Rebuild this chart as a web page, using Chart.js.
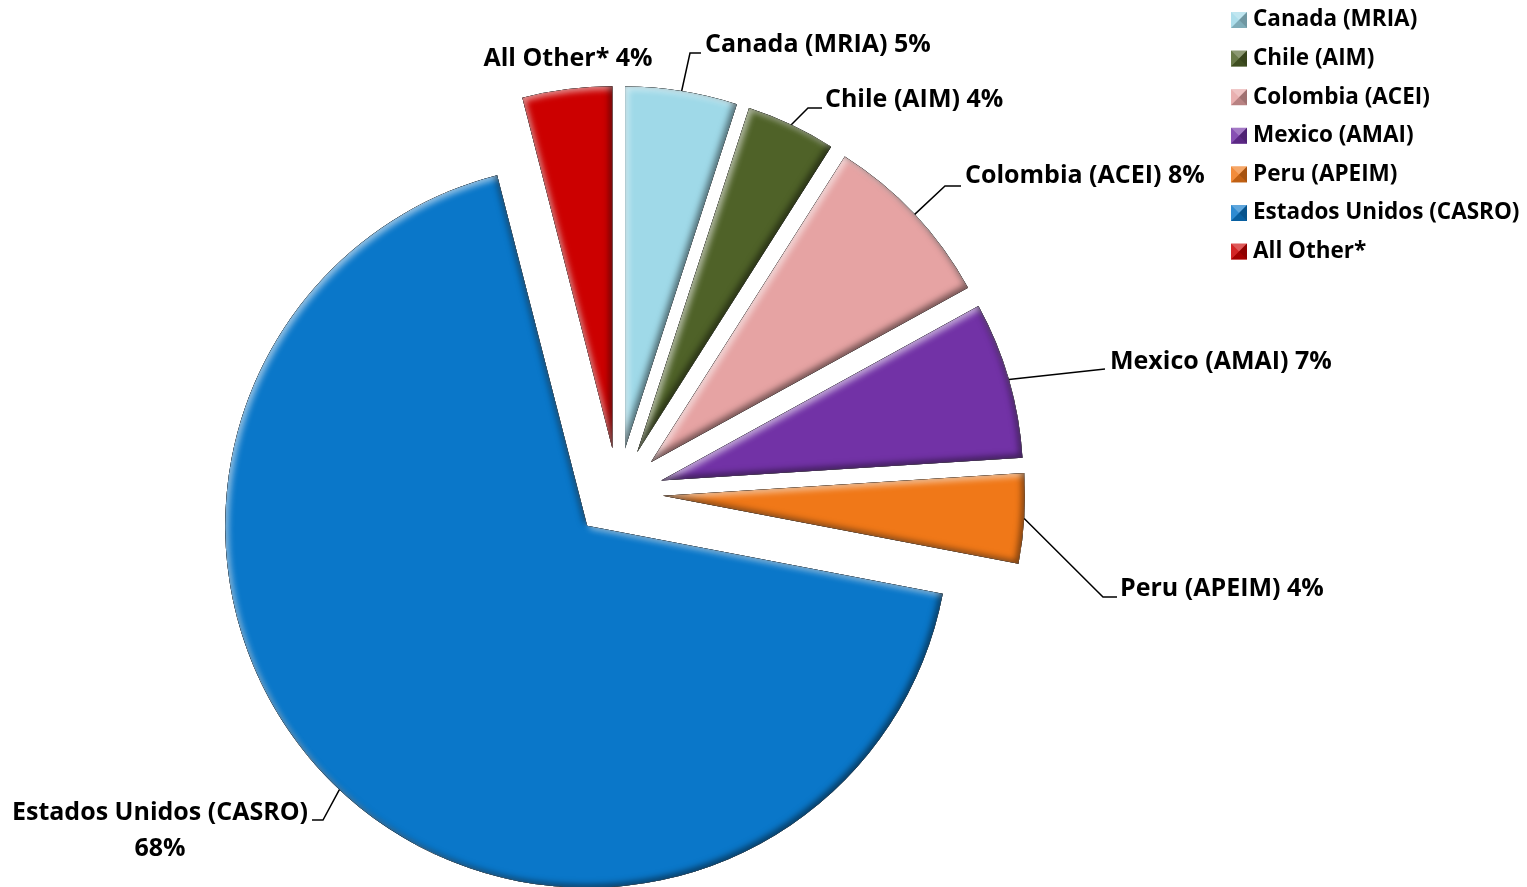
<!DOCTYPE html>
<html>
<head>
<meta charset="utf-8">
<script src="https://cdn.jsdelivr.net/npm/chart.js@4.4.0/dist/chart.umd.min.js"></script>
<style>
  html, body { margin: 0; padding: 0; background: #fff; }
  canvas { display: block; }
</style>
</head>
<body>
<canvas id="pieChart" width="1527" height="887"></canvas>
<script>
// Datos del gráfico
const categories = ['Canada (MRIA)', 'Chile (AIM)', 'Colombia (ACEI)', 'Mexico (AMAI)', 'Peru (APEIM)', 'Estados Unidos (CASRO)', 'All Other*'];
const shares = [5, 4, 8, 7, 4, 68, 4];
const sliceColors = ['#9FD9E8', '#4F6228', '#E6A3A3', '#7232A6', '#F07818', '#0A77C9', '#CC0000'];

const FONT = '"Open Sans", Lato, sans-serif';
const explodePx = 45;

// Posición de las etiquetas (solo maquetación) y codos de las líneas guía
const labelLayout = [
  { x: 705, y: 45, align: 'left', path: [[690, 53], [701, 53]] },
  { x: 825, y: 100, align: 'left', path: [[808, 108], [822, 108]] },
  { x: 965, y: 176, align: 'left', path: [[945, 186], [961, 186]] },
  { x: 1110, y: 362, align: 'left', path: [[1105, 369]] },
  { x: 1120, y: 589, align: 'left', path: [[1103, 597], [1117, 597]] },
  { x: 160, y: 813, align: 'center', path: [[323, 820], [312, 820]], twoLines: true },
  { x: 568, y: 59, align: 'center', path: null }
];

// Bisel interior: sombra de un rectángulo con el sector como hueco
function bevel(ctx, arc, color, off, blur) {
  ctx.save();
  ctx.beginPath();
  ctx.rect(-3000, -3000, 6000, 6000);
  ctx.moveTo(arc.x, arc.y);
  ctx.arc(arc.x, arc.y, arc.outerRadius, arc.startAngle, arc.endAngle);
  ctx.closePath();
  ctx.shadowColor = color;
  ctx.shadowBlur = blur;
  ctx.shadowOffsetX = off;
  ctx.shadowOffsetY = off;
  ctx.fillStyle = '#000';
  ctx.fill('evenodd');
  ctx.restore();
}

// Dibuja los sectores separados del centro con efecto de bisel
const explodedPie = {
  id: 'explodedPie',
  beforeDatasetDraw(chart, args) {
    const ctx = chart.ctx;
    args.meta.data.forEach(arc => {
      const mid = (arc.startAngle + arc.endAngle) / 2;
      ctx.save();
      ctx.translate(Math.cos(mid) * explodePx, Math.sin(mid) * explodePx);
      arc.draw(ctx);
      ctx.beginPath();
      ctx.moveTo(arc.x, arc.y);
      ctx.arc(arc.x, arc.y, arc.outerRadius, arc.startAngle, arc.endAngle);
      ctx.closePath();
      ctx.clip();
      bevel(ctx, arc, 'rgba(255,255,255,0.6)', 3, 6);
      bevel(ctx, arc, 'rgba(0,0,0,0.5)', -3, 6);
      ctx.restore();
    });
    return false;
  }
};

// Etiquetas con líneas guía
const sliceLabels = {
  id: 'sliceLabels',
  afterDraw(chart) {
    const ctx = chart.ctx;
    const arcs = chart.getDatasetMeta(0).data;
    ctx.save();
    ctx.fillStyle = '#000';
    ctx.strokeStyle = '#000';
    ctx.lineWidth = 1.5;
    ctx.font = 'bold 25px ' + FONT;
    ctx.textBaseline = 'middle';
    arcs.forEach((arc, i) => {
      const lay = labelLayout[i];
      const mid = (arc.startAngle + arc.endAngle) / 2;
      const d = explodePx + arc.outerRadius;
      if (lay.path) {
        ctx.beginPath();
        ctx.moveTo(arc.x + Math.cos(mid) * d, arc.y + Math.sin(mid) * d);
        lay.path.forEach(p => ctx.lineTo(p[0], p[1]));
        ctx.stroke();
      }
      ctx.textAlign = lay.align;
      if (lay.twoLines) {
        ctx.fillText(categories[i], lay.x, lay.y);
        ctx.fillText(shares[i] + '%', lay.x, lay.y + 36);
      } else {
        ctx.fillText(categories[i] + ' ' + shares[i] + '%', lay.x, lay.y);
      }
    });
    ctx.restore();
  }
};

// Leyenda a la derecha con marcadores biselados
const sideLegend = {
  id: 'sideLegend',
  afterDraw(chart) {
    const ctx = chart.ctx;
    const x0 = 1231, y0 = 20, step = 38.6, s = 16;
    ctx.save();
    ctx.font = 'bold 22.5px ' + FONT;
    ctx.textBaseline = 'middle';
    ctx.textAlign = 'left';
    categories.forEach((name, i) => {
      const y = y0 + i * step;
      const top = y - s / 2;
      ctx.fillStyle = sliceColors[i];
      ctx.fillRect(x0, top, s, s);
      const tri = (pts, col) => {
        ctx.beginPath();
        ctx.moveTo(pts[0][0], pts[0][1]);
        pts.slice(1).forEach(p => ctx.lineTo(p[0], p[1]));
        ctx.closePath();
        ctx.fillStyle = col;
        ctx.fill();
      };
      const cx = x0 + s / 2, cy = top + s / 2;
      tri([[x0, top], [x0 + s, top], [cx, cy]], 'rgba(255,255,255,0.35)');
      tri([[x0, top], [x0, top + s], [cx, cy]], 'rgba(255,255,255,0.15)');
      tri([[x0 + s, top], [x0 + s, top + s], [cx, cy]], 'rgba(0,0,0,0.3)');
      tri([[x0, top + s], [x0 + s, top + s], [cx, cy]], 'rgba(0,0,0,0.2)');
      ctx.fillStyle = '#000';
      ctx.fillText(name, x0 + 22, y);
    });
    ctx.restore();
  }
};

const ctx = document.getElementById('pieChart').getContext('2d');
const pieChart = new Chart(ctx, {
  type: 'pie',
  data: {
    labels: categories,
    datasets: [{
      data: shares,
      backgroundColor: sliceColors,
      borderWidth: 0,
      radius: 362
    }]
  },
  options: {
    responsive: false,
    animation: false,
    rotation: 0,
    layout: { padding: { left: 0, right: 291, top: 99, bottom: 0 } },
    plugins: {
      legend: { display: false },
      tooltip: { enabled: false }
    }
  },
  plugins: [explodedPie, sliceLabels, sideLegend]
});
</script>
</body>
</html>
